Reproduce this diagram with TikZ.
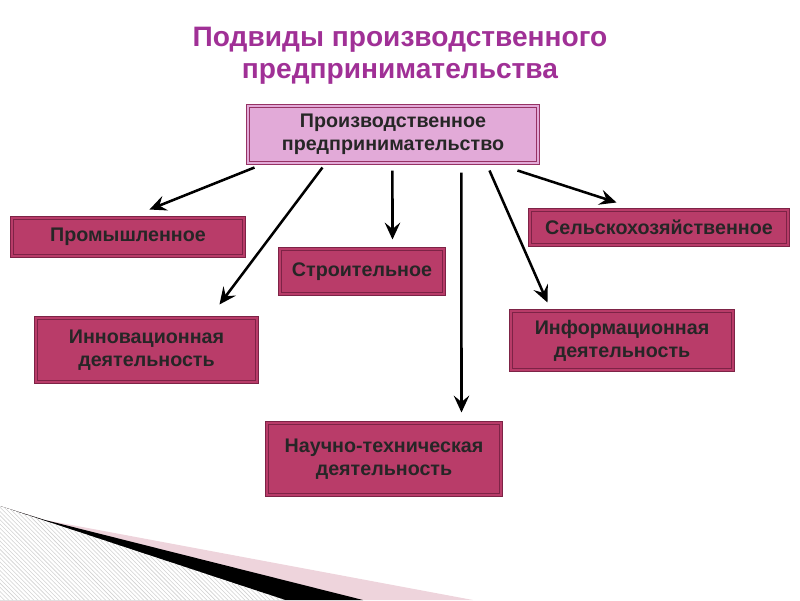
\documentclass[tikz,border=0pt]{standalone}
\usepackage{fontspec}
\setmainfont{Liberation Sans}
\usetikzlibrary{arrows.meta,patterns}
\definecolor{titlecol}{RGB}{160,48,150}
\definecolor{mainfill}{RGB}{226,170,216}
\definecolor{mainedge}{RGB}{150,50,100}
\definecolor{subfill}{RGB}{185,60,105}
\definecolor{subedge}{RGB}{125,35,70}
\definecolor{decopink}{RGB}{238,212,220}
\tikzset{
  mainbox/.style={draw=mainedge,double=mainfill,double distance=1.6pt,line width=0.7pt,fill=mainfill,
    inner sep=0pt,align=center,font=\fontsize{14}{16.5}\selectfont\bfseries,text=black!85},
  subbox/.style={draw=subedge,double=subfill,double distance=1.6pt,line width=0.7pt,fill=subfill,
    inner sep=0pt,align=center,font=\fontsize{14}{16.5}\selectfont\bfseries,text=black!85},
  arr/.style={line width=1.8pt,-{Stealth[length=12pt,width=11pt,inset=4.5pt]}}
}
\begin{document}
\begin{tikzpicture}[x=0.025cm,y=-0.025cm]
\useasboundingbox (0,0) rectangle (800,600);
% corner decoration
\fill[decopink] (45,520) -- (473,600) -- (0,600) -- (0,506) -- cycle;
\fill[black] (45,520) -- (363,600) -- (0,600) -- (0,506) -- cycle;
\fill[white] (0,506) -- (285,600) -- (0,600) -- cycle;
\fill[pattern=north west lines,pattern color=gray!35] (0,506) -- (285,600) -- (0,600) -- cycle;
% title
\node[font=\fontsize{20}{23}\selectfont\bfseries,text=titlecol,align=center] (title) at (400,56)
  {Подвиды производственного\\предпринимательства};
% boxes
\node[mainbox,minimum width=7.25cm,minimum height=1.425cm] (main) at (393,134.5)
  {Производственное\\предпринимательство};
\node[subbox,minimum width=5.8cm,minimum height=0.95cm] (prom) at (128,237) {Промышленное};
\node[subbox,minimum width=4.1cm,minimum height=1.125cm] (stroi) at (362,271.5) {Строительное};
\node[subbox,minimum width=6.45cm,minimum height=0.875cm] (selsk) at (659,227.5) {Сельскохозяйственное};
\node[subbox,minimum width=5.525cm,minimum height=1.6cm] (innov) at (146.5,350)
  {Инновационная\\деятельность};
\node[subbox,minimum width=5.55cm,minimum height=1.475cm] (inform) at (622,340.5)
  {Информационная\\деятельность};
\node[subbox,minimum width=5.85cm,minimum height=1.8cm] (nauch) at (384,459)
  {Научно-техническая\\деятельность};
% arrows
\draw[arr] ([shift={(7,4)}]main.south west) -- ([shift={(138,-8)}]prom.north west);
\draw[arr] ([shift={(75,4)}]main.south west) -- ([shift={(184,-13)}]innov.north west);
\draw[arr] ([shift={(145,7)}]main.south west) -- ([shift={(113,-9)}]stroi.north west);
\draw[arr] ([shift={(214,9)}]main.south west) -- ([shift={(195,-10)}]nauch.north west);
\draw[arr] ([shift={(242,7)}]main.south west) -- ([shift={(37,-8)}]inform.north west);
\draw[arr] ([shift={(270,7)}]main.south west) -- ([shift={(87,-7)}]selsk.north west);
\end{tikzpicture}
\end{document}
